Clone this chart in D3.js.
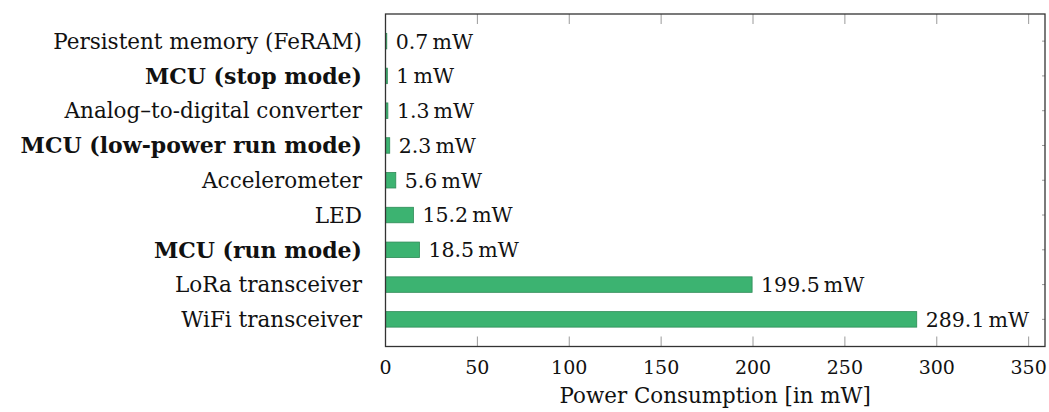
<!DOCTYPE html>
<html>
<head>
<meta charset="utf-8">
<script src="https://cdn.jsdelivr.net/npm/d3@7"></script>
<style>
  body { margin: 0; background: #fff; }
  text { font-family: "DejaVu Serif", serif; fill: #111; }
</style>
</head>
<body>
<div id="chart"></div>
<script>
// data, top to bottom as drawn
const components = [
    "Persistent memory (FeRAM)",
    "MCU (stop mode)",
    "Analog\u2013to-digital converter",
    "MCU (low-power run mode)",
    "Accelerometer",
    "LED",
    "MCU (run mode)",
    "LoRa transceiver",
    "WiFi transceiver"
];
const power = [0.7, 1, 1.3, 2.3, 5.6, 15.2, 18.5, 199.5, 289.1];
const boldLabel = [false, true, false, true, false, false, true, false, false];
const xTicks = [0, 50, 100, 150, 200, 250, 300, 350];
const xTitle = "Power Consumption [in mW]";

const width = 1049, height = 412;
const plot = {left: 385.5, right: 1045, top: 14, bottom: 346.5};

const svg = d3.select("#chart").append("svg")
    .attr("width", width)
    .attr("height", height);

const x = d3.scaleLinear()
    .domain([0, 358.9])
    .range([plot.left, plot.right]);

const y = d3.scalePoint()
    .domain(components)
    .range([plot.top, plot.bottom])
    .padding(0.78);

const barH = 15.5;
const rows = components.map((c, i) => ({name: c, value: power[i], bold: boldLabel[i]}));

// bars
svg.append("g").selectAll("rect")
    .data(rows)
    .enter().append("rect")
    .attr("x", x(0))
    .attr("y", d => y(d.name) - barH / 2)
    .attr("width", d => x(d.value) - x(0))
    .attr("height", barH)
    .attr("fill", "#3cb371")
    .attr("stroke", "#2e8b57")
    .attr("stroke-width", 0.8);

// value labels
svg.append("g").selectAll("text")
    .data(rows)
    .enter().append("text")
    .attr("x", d => x(d.value) + 9)
    .attr("y", d => y(d.name))
    .attr("dy", "0.36em")
    .style("font-size", "20.5px")
    .text(d => d.value + "\u2009mW");

// category labels
svg.append("g").selectAll("text")
    .data(rows)
    .enter().append("text")
    .attr("x", plot.left - 23.5)
    .attr("y", d => y(d.name))
    .attr("dy", "0.36em")
    .attr("text-anchor", "end")
    .style("font-size", d => d.bold ? "22px" : "21.5px")
    .style("font-weight", d => d.bold ? "bold" : "normal")
    .text(d => d.name);

// x ticks, bottom and top, pointing inward
const tickG = svg.append("g").attr("stroke", "#9a9a9a").attr("stroke-width", 1);
xTicks.forEach(t => {
    tickG.append("line")
        .attr("x1", x(t)).attr("x2", x(t))
        .attr("y1", plot.bottom).attr("y2", plot.bottom - 10);
    tickG.append("line")
        .attr("x1", x(t)).attr("x2", x(t))
        .attr("y1", plot.top).attr("y2", plot.top + 10);
});
// small y ticks on the right edge
components.forEach(c => {
    tickG.append("line")
        .attr("x1", plot.right).attr("x2", plot.right - 3)
        .attr("y1", y(c)).attr("y2", y(c));
});

// x tick labels
svg.append("g").selectAll("text")
    .data(xTicks)
    .enter().append("text")
    .attr("x", d => x(d))
    .attr("y", 374)
    .attr("text-anchor", "middle")
    .style("font-size", "19px")
    .text(d => d);

// frame
svg.append("rect")
    .attr("x", plot.left)
    .attr("y", plot.top)
    .attr("width", plot.right - plot.left)
    .attr("height", plot.bottom - plot.top)
    .attr("fill", "none")
    .attr("stroke", "#333")
    .attr("stroke-width", 1.3);

// axis title
svg.append("text")
    .attr("x", (plot.left + plot.right) / 2)
    .attr("y", 403)
    .attr("text-anchor", "middle")
    .style("font-size", "21.4px")
    .text(xTitle);
</script>
</body>
</html>
